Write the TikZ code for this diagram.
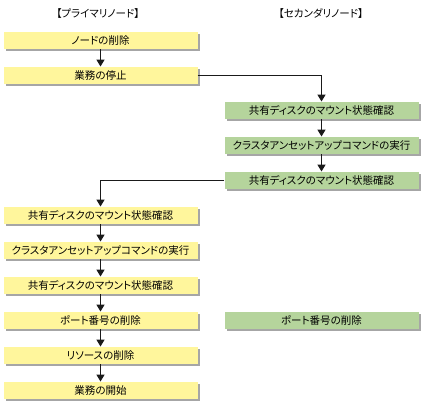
\documentclass[tikz,border=0pt]{standalone}
\usepackage{fontspec}
\setmainfont[RawFeature=+palt]{Noto Sans CJK JP}
\usetikzlibrary{arrows.meta,shadows}
\definecolor{boxyellow}{HTML}{FFF69C}
\definecolor{boxgreen}{HTML}{B5D49C}
\definecolor{shadowgray}{HTML}{A6A6A6}
\definecolor{linecol}{HTML}{1A1A1A}
\begin{document}
\begin{tikzpicture}[x=1pt,y=-1pt,
  procbox/.style={rectangle, minimum width=194pt, minimum height=17.5pt, inner sep=0pt,
    font=\fontsize{10.5}{12}\selectfont,
    drop shadow={shadow xshift=2pt, shadow yshift=-2pt, fill=shadowgray, opacity=1}},
  primbox/.style={procbox, fill=boxyellow},
  secbox/.style={procbox, fill=boxgreen},
  header/.style={font=\fontsize{10.5}{12}\selectfont, inner sep=0pt},
  flow/.style={line width=1.4pt, draw=linecol, -{Triangle[width=8pt,length=7pt]}}
]
\useasboundingbox (0,0) rectangle (425,410);
\node[header] (hp) at (98,14) {【プライマリノード】};
\node[header] (hs) at (321,14) {【セカンダリノード】};

\node[primbox] (L1) at (100.5,40.5) {ノードの削除};
\node[primbox] (L2) at (100.5,75.5) {業務の停止};
\node[secbox] (R1) at (321.5,110.5) {共有ディスクのマウント状態確認};
\node[secbox] (R2) at (321.5,145.5) {クラスタアンセットアップコマンドの実行};
\node[secbox] (R3) at (321.5,180.5) {共有ディスクのマウント状態確認};
\node[primbox] (L3) at (100.5,215.5) {共有ディスクのマウント状態確認};
\node[primbox] (L4) at (100.5,250.5) {クラスタアンセットアップコマンドの実行};
\node[primbox] (L5) at (100.5,285.5) {共有ディスクのマウント状態確認};
\node[primbox] (L6) at (100.5,320.5) {ポート番号の削除};
\node[secbox] (R4) at (321.5,320.5) {ポート番号の削除};
\node[primbox] (L7) at (100.5,355.5) {リソースの削除};
\node[primbox] (L8) at (100.5,390.5) {業務の開始};

\draw[flow] (L1) -- (L2);
\draw[flow] (L2.east) -| (R1.north);
\draw[flow] (R1) -- (R2);
\draw[flow] (R2) -- (R3);
\draw[flow] (R3.west) -| (L3.north);
\draw[flow] (L3) -- (L4);
\draw[flow] (L4) -- (L5);
\draw[flow] (L5) -- (L6);
\draw[flow] (L6) -- (L7);
\draw[flow] (L7) -- (L8);
\end{tikzpicture}
\end{document}
